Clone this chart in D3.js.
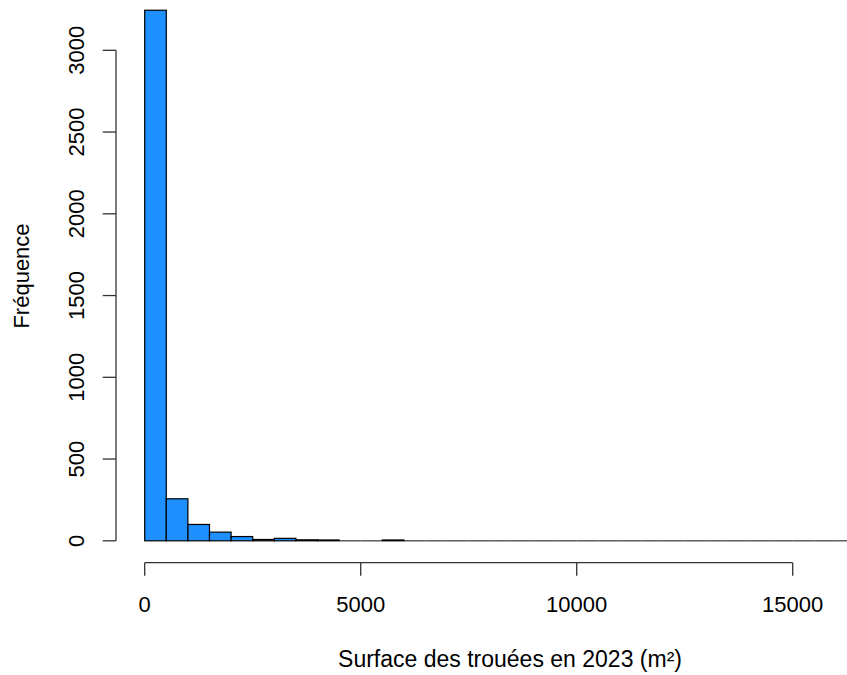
<!DOCTYPE html>
<html lang="fr">
<head>
<meta charset="UTF-8">
<title>Histogramme des trouées</title>
<style>
    body { margin: 0; background: #fff; }
    svg { display: block; font-family: "Liberation Sans", Arial, sans-serif; }
    .bar { fill: #1E90FF; stroke: #000; stroke-width: 1.2px; }
    .flat { stroke: #444; stroke-width: 1.3px; }
    .axis-line, .tick-line { stroke: #333; stroke-width: 1.3px; fill: none; }
    text { fill: #000; }
</style>
</head>
<body>
<svg width="847" height="675"></svg>
<script src="https://d3js.org/d3.v7.min.js"></script>
<script>
    // histogram bins of 500 m² from 0 to 16500
    const binWidth = 500;
    const counts = [3245, 257, 100, 53, 26, 8, 15, 6, 5, 0, 0, 5,
                    0, 0, 0, 0, 0, 0, 0, 0, 0, 0, 0, 0,
                    0, 0, 0, 0, 0, 0, 0, 0, 0];
    const xTicks = [0, 5000, 10000, 15000];
    const yTicks = [0, 500, 1000, 1500, 2000, 2500, 3000];
    const xTitle = "Surface des trouées en 2023 (m²)";
    const yTitle = "Fréquence";

    const bins = counts.map((c, i) => ({x0: i * binWidth, x1: (i + 1) * binWidth, count: c}));

    const svg = d3.select("svg");

    const x = d3.scaleLinear().domain([0, 15000]).range([144.7, 792.7]);
    const y = d3.scaleLinear().domain([0, 3000]).range([540.8, 50.3]);

    // empty bins collapse to a flat outline, like R's hist
    svg.append("g").selectAll("line").data(bins.filter(d => d.count === 0)).enter().append("line")
        .attr("class", "flat")
        .attr("x1", d => x(d.x0)).attr("x2", d => x(d.x1))
        .attr("y1", y(0)).attr("y2", y(0));

    svg.append("g").selectAll("rect").data(bins.filter(d => d.count > 0)).enter().append("rect")
        .attr("class", "bar")
        .attr("x", d => x(d.x0))
        .attr("width", d => x(d.x1) - x(d.x0))
        .attr("y", d => y(d.count))
        .attr("height", d => y(0) - y(d.count));

    // y axis
    const axisX = 116;
    const gy = svg.append("g");
    gy.append("line").attr("class", "axis-line")
        .attr("x1", axisX).attr("x2", axisX)
        .attr("y1", y(yTicks[0])).attr("y2", y(yTicks[yTicks.length - 1]));
    gy.selectAll(".tick-line").data(yTicks).enter().append("line")
        .attr("class", "tick-line")
        .attr("x1", axisX - 13.3).attr("x2", axisX)
        .attr("y1", d => y(d)).attr("y2", d => y(d));
    gy.selectAll("text").data(yTicks).enter().append("text")
        .attr("transform", d => `translate(83.5,${y(d)}) rotate(-90)`)
        .attr("text-anchor", "middle")
        .style("font-size", "22px")
        .text(d => d);

    // x axis
    const axisY = 562.7;
    const gx = svg.append("g");
    gx.append("line").attr("class", "axis-line")
        .attr("x1", x(xTicks[0])).attr("x2", x(xTicks[xTicks.length - 1]))
        .attr("y1", axisY).attr("y2", axisY);
    gx.selectAll(".tick-line").data(xTicks).enter().append("line")
        .attr("class", "tick-line")
        .attr("x1", d => x(d)).attr("x2", d => x(d))
        .attr("y1", axisY).attr("y2", axisY + 13);
    gx.selectAll("text").data(xTicks).enter().append("text")
        .attr("x", d => x(d)).attr("y", 612)
        .attr("text-anchor", "middle")
        .style("font-size", "22px")
        .text(d => d);

    // titles
    svg.append("text")
        .attr("x", 510).attr("y", 667)
        .attr("text-anchor", "middle")
        .style("font-size", "23px")
        .text(xTitle);
    svg.append("text")
        .attr("transform", "translate(28.5,276) rotate(-90)")
        .attr("text-anchor", "middle")
        .style("font-size", "22px")
        .text(yTitle);
</script>
</body>
</html>
